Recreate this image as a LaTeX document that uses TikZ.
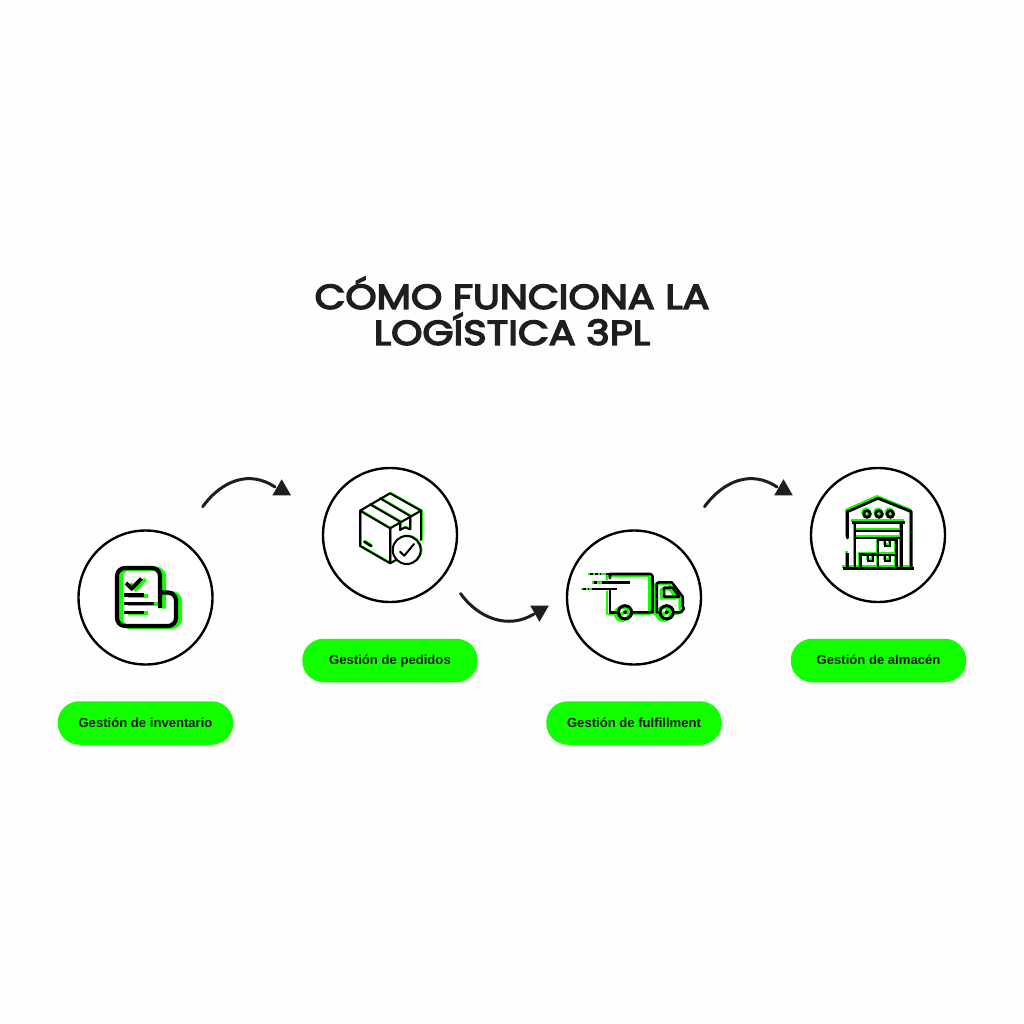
\documentclass[tikz,border=0pt]{standalone}
\usepackage{fontspec}
\usetikzlibrary{shapes.geometric}
\setmainfont{Liberation Sans}
\newfontfamily\ttlfont[FakeStretch=1.155,FakeBold=4.5]{Poppins}
\definecolor{neon}{HTML}{12FF00}
\definecolor{ink}{HTML}{1E1E1E}
\definecolor{paper}{HTML}{FEFEFE}
\newcommand{\duo}[3]{%
  \begin{scope}[shift={(#1,#2)},color=neon]#3\end{scope}%
  \begin{scope}[color=black]#3\end{scope}}
\tikzset{
  disc/.style={circle,draw=black,line width=2.4pt,fill=white,minimum size=134pt,inner sep=0pt},
  pill/.style={rectangle,rounded corners=21.5pt,fill=neon,minimum width=175.5pt,minimum height=43.5pt,inner sep=0pt,
    text height=10pt,text depth=2pt,font=\fontsize{13.1}{15}\selectfont\bfseries,text=black!90},
  tri/.style={regular polygon,regular polygon sides=3,fill=ink,inner sep=0pt,outer sep=0pt,minimum size=21.5pt},
  flow/.style={draw=ink,line width=3pt,line cap=round},
  ic/.style={line width=2pt,line cap=round,line join=round},
}
\begin{document}
\begin{tikzpicture}[x=1pt,y=-1pt]
\useasboundingbox (0,0) rectangle (1024,1024);
\fill[paper] (0,0) rectangle (1024,1024);

\node[font=\ttlfont\fontsize{34.5}{36}\selectfont,text=ink,align=center,inner sep=0pt] (title) at (512,311) {CÓMO FUNCIONA LA\\LOGÍSTICA 3PL};

\node[disc] (c1) at (145.5,597.5) {};
\node[disc] (c2) at (390,535) {};
\node[disc] (c3) at (634,597.5) {};
\node[disc] (c4) at (878,535) {};

\node[pill] (p1) at (145.5,723) {Gestión de inventario};
\node[pill] (p2) at (390,660.5) {Gestión de pedidos};
\node[pill] (p3) at (634,723) {Gestión de fulfillment};
\node[pill] (p4) at (878.5,660.5) {Gestión de almacén};

% connectors
\coordinate (a1) at (202.7,506.7);
\node[tri] (h1) at (281.7,490) {};
\draw[flow] (a1) .. controls (222,480) and (250,470) .. (275,487);
\coordinate (a2) at (460.5,593.5);
\node[tri,shape border rotate=180] (h2) at (539.5,611) {};
\draw[flow] (a2) .. controls (478,618) and (508,630) .. (534,614);
\coordinate (a3) at (704.5,506.7);
\node[tri] (h3) at (783.5,490) {};
\draw[flow] (a3) .. controls (724,480) and (752,470) .. (777,487);

% icon 1: inventory
\duo{4}{0.7}{
  \draw[line width=4.2pt,line join=round] (160,608) -- (160,576) arc[start angle=0,end angle=-90,radius=8] -- (125,568)
    arc[start angle=-90,end angle=-180,radius=8] -- (117,618) arc[start angle=180,end angle=90,radius=8]
    -- (168,626) arc[start angle=90,end angle=0,radius=8] -- (176,600.5) arc[start angle=0,end angle=-90,radius=8] -- (160,592.5);
  \draw[line width=3.8pt] (124,595) -- (143.5,595);
  \draw[line width=3.8pt] (124,603.5) -- (153.5,603.5);
  \draw[line width=3.8pt] (124,612.5) -- (143.5,612.5);
  \draw[line width=3.8pt,line join=miter] (126,583) -- (131.7,588.5) -- (141.5,578.5);
}

% icon 2: box
\duo{0.8}{-0.4}{
  \draw[ic] (390,493.3) -- (421,510.7) -- (390,528.3) -- (360,510.7) -- cycle;
  \draw[ic] (360,510.7) -- (360,546) -- (390,563.3) -- (390,528.3);
  \draw[ic] (421,510.7) -- (421,540);
  \draw[ic] (390,563.3) -- (396,560);
  \draw[ic] (370,504.3) -- (400,521.7) -- (400,530) -- (405,527.3) -- (410,529.3) -- (410,516) -- (380,498.3);
  \draw[ic,line width=2.6pt] (364.3,541.7) -- (371,546);
}
\duo{0.8}{-0.4}{
  \draw[ic,fill=white] (406.7,550) circle[radius=14];
  \draw[ic] (400,551.7) -- (404.3,555.7) -- (414,544);
}

% icon 3: truck
\duo{-3}{1.5}{
  \draw[ic,line width=2.6pt] (617,612.3) -- (610,612.3) -- (610,590);
  \draw[ic,line width=2.6pt] (610,578) -- (610,574) -- (650,574) arc[start angle=-90,end angle=0,radius=2.5] -- (652.5,612.3) -- (632,612.3);
  \draw[ic,line width=2.6pt] (659,612.3) -- (656.7,612.3) -- (656.7,584.5) arc[start angle=180,end angle=270,radius=2.2] -- (671.7,582.3) -- (682.7,596.7) -- (682.7,607) -- (684,608.5) -- (681,612.3) -- (674,612.3);
  \draw[ic,line width=2.6pt] (664,587.7) -- (672.7,587.7) -- (679.3,596.7) -- (664,596.7) -- cycle;
  \draw[line width=3pt] (625,612.3) circle[radius=6.6];
  \draw[line width=3pt] (666.7,612.3) circle[radius=6.6];
  \fill (625,612.3) circle[radius=2];
  \fill (666.7,612.3) circle[radius=2];
}
\begin{scope}[line width=2.6pt]
  \draw[neon] (588,574) -- (611,574);
  \draw[neon] (592,582.3) -- (616,582.3);
  \draw[neon] (581,589) -- (600,589);
  \draw[black,dash pattern=on 3pt off 2pt] (590,574) -- (601,574);
  \draw[black] (606,574) -- (611,574);
  \draw[black,dash pattern=on 3pt off 2pt] (594,582.3) -- (599,582.3);
  \draw[black] (602,582.3) -- (630,582.3);
  \draw[black,dash pattern=on 3pt off 2pt] (583,589) -- (589,589);
  \draw[black] (592,589) -- (617,589);
\end{scope}

% icon 4: warehouse
\duo{-1}{-1.8}{
  \draw[ic,line width=2.8pt] (847.5,538) -- (847.5,511.7) -- (878,498.3) -- (911.3,511.7) -- (911.3,568.3);
  \draw[line width=2.8pt] (847.5,553) -- (847.5,568.3);
  \draw[line width=2.8pt] (843,568.3) -- (914,568.3);
  \draw[line width=2.8pt] (867,514) circle[radius=3.3] (879,514) circle[radius=3.3] (890.3,514) circle[radius=3.3];
  \draw[line width=3.2pt] (851.5,522.3) -- (905,522.3);
  \draw[line width=2.8pt] (855,522.3) -- (855,568.3);
  \draw[line width=2.8pt] (901.3,522.3) -- (901.3,568.3);
  \draw[line width=2.6pt] (856,531) -- (900,531);
  \draw[line width=2.6pt] (856,538) -- (900,538);
  \draw[line width=2.6pt] (878,568.3) -- (878,539.3) -- (896.3,539.3) -- (896.3,568.3);
  \draw[line width=2.6pt] (860.3,568.3) -- (860.3,554.7) -- (878,554.7);
  \draw[line width=2.6pt] (878,555) -- (896.3,555);
  \draw[line width=2pt] (884.7,540) -- (884.7,545.5) -- (890,545.5) -- (890,540);
  \draw[line width=2pt] (867.5,555) -- (867.5,560.5) -- (873,560.5) -- (873,555);
  \draw[line width=2pt] (884.7,556) -- (884.7,561) -- (890,561) -- (890,556);
}
\end{tikzpicture}
\end{document}
